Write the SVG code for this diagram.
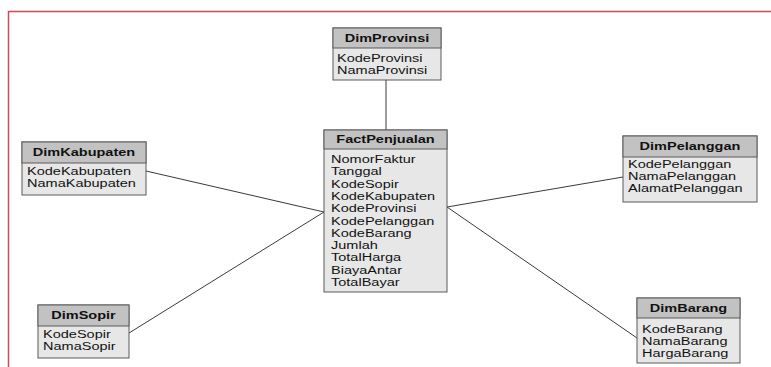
<svg xmlns="http://www.w3.org/2000/svg" width="771" height="367" viewBox="0 0 771 367">
<style>
.hd{fill:#c2c2c2;stroke:#5a5a5a;stroke-width:1}
.bd{fill:#e7e7e7;stroke:#5a5a5a;stroke-width:1}
.h{font-family:"Liberation Sans",Arial,sans-serif;font-size:11px;font-weight:bold;fill:#111;text-anchor:middle}
.t{font-family:"Liberation Sans",Arial,sans-serif;font-size:11px;fill:#111}
.c{stroke:#3a3a3a;stroke-width:1;fill:none}
</style>
<rect x="0" y="0" width="771" height="367" fill="#ffffff"/>
<path d="M8.5 367 V11.5 H771" fill="none" stroke="#d04a55" stroke-width="1.5"/>
<g id="connectors">
<line class="c" x1="386" y1="80" x2="386" y2="130"/>
<line class="c" x1="146" y1="171" x2="324" y2="212"/>
<line class="c" x1="129" y1="333" x2="324" y2="212"/>
<line class="c" x1="447" y1="207" x2="623" y2="177"/>
<line class="c" x1="447" y1="207" x2="637" y2="338"/>
</g>
<g id="DimProvinsi">
<rect class="bd" x="333" y="28" width="108" height="52"/>
<rect class="hd" x="333" y="28" width="108" height="20"/>
<text class="h" transform="translate(387,42) scale(1.32,1)">DimProvinsi</text>
<text class="t" transform="translate(337,62) scale(1.32,1)">KodeProvinsi</text>
<text class="t" transform="translate(337,74) scale(1.32,1)">NamaProvinsi</text>
</g>
<g id="FactPenjualan">
<rect class="bd" x="324" y="130" width="123" height="162"/>
<rect class="hd" x="324" y="130" width="123" height="19"/>
<text class="h" transform="translate(385.5,143) scale(1.32,1)">FactPenjualan</text>
<text class="t" transform="translate(331,163) scale(1.32,1)">NomorFaktur</text>
<text class="t" transform="translate(331,175.3) scale(1.32,1)">Tanggal</text>
<text class="t" transform="translate(331,187.6) scale(1.32,1)">KodeSopir</text>
<text class="t" transform="translate(331,199.9) scale(1.32,1)">KodeKabupaten</text>
<text class="t" transform="translate(331,212.2) scale(1.32,1)">KodeProvinsi</text>
<text class="t" transform="translate(331,224.5) scale(1.32,1)">KodePelanggan</text>
<text class="t" transform="translate(331,236.8) scale(1.32,1)">KodeBarang</text>
<text class="t" transform="translate(331,249.1) scale(1.32,1)">Jumlah</text>
<text class="t" transform="translate(331,261.4) scale(1.32,1)">TotalHarga</text>
<text class="t" transform="translate(331,273.7) scale(1.32,1)">BiayaAntar</text>
<text class="t" transform="translate(331,286) scale(1.32,1)">TotalBayar</text>
</g>
<g id="DimKabupaten">
<rect class="bd" x="22" y="142" width="124" height="53"/>
<rect class="hd" x="22" y="142" width="124" height="21"/>
<text class="h" transform="translate(84,156) scale(1.32,1)">DimKabupaten</text>
<text class="t" transform="translate(27,175) scale(1.32,1)">KodeKabupaten</text>
<text class="t" transform="translate(27,187) scale(1.32,1)">NamaKabupaten</text>
</g>
<g id="DimPelanggan">
<rect class="bd" x="623" y="136" width="134" height="66"/>
<rect class="hd" x="623" y="136" width="134" height="21"/>
<text class="h" transform="translate(690,150) scale(1.32,1)">DimPelanggan</text>
<text class="t" transform="translate(628,168) scale(1.32,1)">KodePelanggan</text>
<text class="t" transform="translate(628,180) scale(1.32,1)">NamaPelanggan</text>
<text class="t" transform="translate(628,192) scale(1.32,1)">AlamatPelanggan</text>
</g>
<g id="DimSopir">
<rect class="bd" x="38" y="305" width="91" height="53"/>
<rect class="hd" x="38" y="305" width="91" height="21"/>
<text class="h" transform="translate(83.5,319) scale(1.32,1)">DimSopir</text>
<text class="t" transform="translate(43,338) scale(1.32,1)">KodeSopir</text>
<text class="t" transform="translate(43,350) scale(1.32,1)">NamaSopir</text>
</g>
<g id="DimBarang">
<rect class="bd" x="637" y="298" width="103" height="65"/>
<rect class="hd" x="637" y="298" width="103" height="20"/>
<text class="h" transform="translate(688.5,312) scale(1.32,1)">DimBarang</text>
<text class="t" transform="translate(642,333) scale(1.32,1)">KodeBarang</text>
<text class="t" transform="translate(642,345) scale(1.32,1)">NamaBarang</text>
<text class="t" transform="translate(642,357) scale(1.32,1)">HargaBarang</text>
</g>
</svg>
